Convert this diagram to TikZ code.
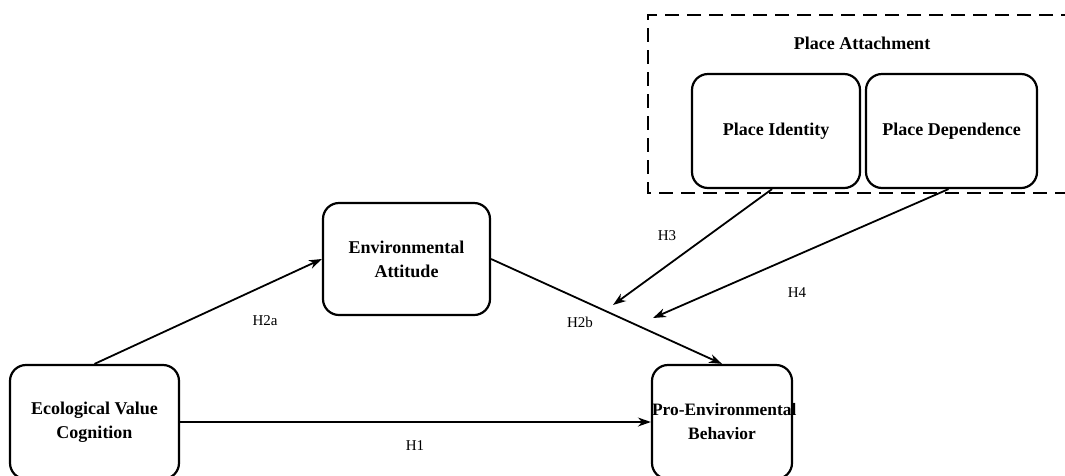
\documentclass[tikz,border=0pt]{standalone}
\usepackage{fontspec}
\setmainfont{Liberation Serif}
\usetikzlibrary{arrows.meta}
\begin{document}
\begin{tikzpicture}[x=1pt,y=-1pt,
  box/.style={draw=black,line width=2.2pt,rounded corners=16pt,align=center,
    font=\fontsize{18}{24}\selectfont\bfseries,inner sep=0pt},
  conn/.style={line width=1.8pt,-{Stealth[length=13pt,width=9pt]}},
  hlab/.style={font=\fontsize{15}{17}\selectfont},
  frame/.style={line width=2pt,dash pattern=on 14pt off 8pt}]
\useasboundingbox (0,0) rectangle (1065,475);
\clip (0,0) rectangle (1065,475);
% dashed group frame
\coordinate (fa) at (1075,15);
\coordinate (fb) at (648,15);
\coordinate (fc) at (648,193);
\coordinate (fd) at (1075,193);
\draw[frame] (fa) -- (fb) -- (fc) -- (fd);
\node[font=\fontsize{18}{20}\selectfont\bfseries] (pa) at (862,43) {Place Attachment};
% boxes
\node[box,minimum width=168pt,minimum height=114pt] (pi) at (776,131) {Place Identity};
\node[box,minimum width=171pt,minimum height=114pt] (pd) at (951.5,131) {Place Dependence};
\node[box,minimum width=167pt,minimum height=112pt] (ea) at (406.5,259) {Environmental\\Attitude};
\node[box,minimum width=169pt,minimum height=114pt] (ev) at (94.5,422) {Ecological Value\\Cognition};
\node[box,text width=140pt,minimum height=114pt,font=\fontsize{17.4}{24}\selectfont\bfseries] (pe) at (722,422) {\mbox{Pro-Environmental}\\Behavior};
% connectors
\coordinate (h3end) at (613,305);
\coordinate (h4end) at (653,318);
\draw[conn] (ev.north) -- (ea.west);
\draw[conn] (ea.east) -- (pe.north);
\draw[conn] (ev.east) -- (pe.west);
\draw[conn] ([xshift=-4pt]pi.south) -- (h3end);
\draw[conn] ([xshift=-3pt]pd.south) -- (h4end);
% labels
\node[hlab] (l2a) at (265,321) {H2a};
\node[hlab] (l2b) at (580,322) {H2b};
\node[hlab] (l1) at (415,446) {H1};
\node[hlab] (l3) at (667,236) {H3};
\node[hlab] (l4) at (797,293) {H4};
\end{tikzpicture}
\end{document}
